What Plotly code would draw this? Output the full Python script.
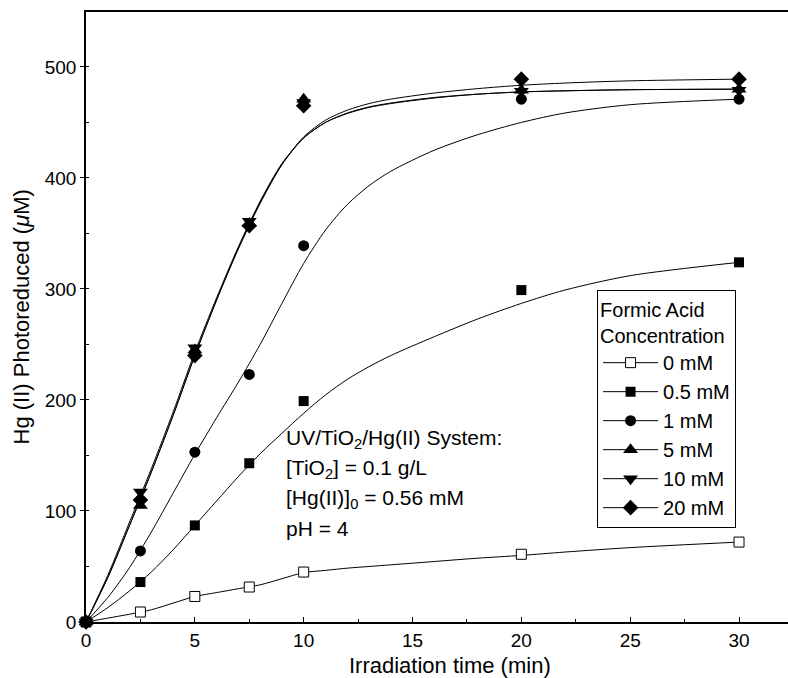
import plotly.graph_objects as go

# Measured Hg(II) photoreduced (uM) vs irradiation time (min)
time_min = [0, 2.5, 5, 7.5, 10, 20, 30]
hg_0mM = [0, 9, 23, 31.5, 45, 61, 72]
hg_05mM = [0, 36, 87, 143, 199, 299, 324]
hg_1mM = [0, 64, 153, 223, 339, 471, 471]
hg_5mM = [0, 105, 245, 359, 471, 479, 480]
hg_10mM = [0, 117, 247, 361, 468, 478, 479]
hg_20mM = [0, 110, 240, 357, 465, 489, 489]

# Fitted kinetic curves sampled on a common time grid
fit_time = [0, 1, 2, 3, 4, 5, 6, 7, 8, 9, 10, 11, 12, 13, 14, 16, 18, 20, 22, 25, 30]
fit_0mM = [0, 3.5, 7, 11, 17, 23, 26.5, 30, 33.5, 39, 44.5, 46.5, 48.5, 50, 51.5, 54.5, 57.5, 60, 63, 67, 72]
fit_05mM = [0, 13, 28, 45, 65, 87, 109, 131, 151.5, 170, 188, 204.5, 218.5, 230, 240, 257, 273, 287, 299, 312, 324]
fit_1mM = [0, 22, 49, 81, 116, 151, 184, 216, 250, 287, 323, 353, 376, 393, 406, 425, 439, 450, 458.5, 466, 471]
fit_5mM = [0, 40, 87, 135, 186, 240, 290, 337, 378, 412, 436, 450, 458.5, 464, 467.5, 472.5, 475.5, 477.5, 478.5, 479.5, 480]
fit_10mM = [0, 42, 90, 138, 189, 243, 292, 338, 379, 413, 436, 450, 458, 463.5, 467, 472, 475.5, 477.5, 478.5, 479.5, 480]
fit_20mM = [0, 40, 87, 135, 186, 240, 290, 336, 377, 412, 437, 452, 461, 467, 471, 476.5, 480.5, 483.5, 485.5, 487.5, 489]

series_names = ["0 mM", "0.5 mM", "1 mM", "5 mM", "10 mM", "20 mM"]
series_data = [hg_0mM, hg_05mM, hg_1mM, hg_5mM, hg_10mM, hg_20mM]
series_fits = [fit_0mM, fit_05mM, fit_1mM, fit_5mM, fit_10mM, fit_20mM]

marker_styles = [
    dict(symbol="square", size=10, color="white", line=dict(color="black", width=1)),
    dict(symbol="square", size=10, color="black", line=dict(color="black", width=0)),
    dict(symbol="circle", size=11, color="black", line=dict(color="black", width=0)),
    dict(symbol="triangle-up", size=13, color="black", line=dict(color="black", width=0)),
    dict(symbol="triangle-down", size=13, color="black", line=dict(color="black", width=0)),
    dict(symbol="diamond", size=12, color="black", line=dict(color="black", width=0)),
]

FONT = "Arial, Liberation Sans, sans-serif"

fig = go.Figure()

# fitted curves
for name, fit in zip(series_names, series_fits):
    fig.add_trace(go.Scatter(
        x=fit_time, y=fit, mode="lines", line=dict(color="black", width=1, shape="spline", smoothing=0.8),
        showlegend=False, hoverinfo="skip", legendgroup=name,
    ))

# measured points
for name, data, mk in zip(series_names, series_data, marker_styles):
    fig.add_trace(go.Scatter(
        x=time_min, y=data, mode="markers", marker=mk, cliponaxis=False,
        showlegend=False, name=name, legendgroup=name,
    ))

# legend entries (line + symbol)
for name, mk in zip(series_names, marker_styles):
    fig.add_trace(go.Scatter(
        x=[None], y=[None], mode="lines+markers", name=name, legendgroup=name,
        line=dict(color="black", width=1), marker=mk,
    ))

fig.update_layout(
    width=788, height=678,
    margin=dict(l=86, r=0, t=12, b=56),
    paper_bgcolor="white", plot_bgcolor="white",
    font=dict(family=FONT, color="black", size=19),
    showlegend=True,
    legend=dict(
        x=0.728, y=0.544, xanchor="left", yanchor="top",
        bgcolor="white", bordercolor="black", borderwidth=1,
        font=dict(family=FONT, size=20, color="black"),
        title=dict(text="Formic Acid<br>Concentration", font=dict(family=FONT, size=20, color="black")),
        itemwidth=55, tracegroupgap=0,
        entrywidth=150, entrywidthmode="pixels",
    ),
)

fig.update_xaxes(
    range=[0, 32.25], tick0=0, dtick=5, ticks="inside", ticklen=5, tickwidth=1.2,
    tickcolor="black", showline=True, linecolor="black", linewidth=1.5, mirror=True,
    showgrid=False, zeroline=False, tickfont=dict(size=19),
    minor=dict(dtick=2.5, ticks="inside", ticklen=3, tickcolor="black", tickwidth=1),
)
fig.update_yaxes(
    range=[0, 549.5], tick0=0, dtick=100, ticks="outside", ticklen=4, tickwidth=1.2,
    tickcolor="black", showline=True, linecolor="black", linewidth=1.5, mirror=False,
    showgrid=False, zeroline=False, tickfont=dict(size=19),
    minor=dict(dtick=50, ticks="inside", ticklen=3, tickcolor="black", tickwidth=1),
)

annotations = [
    dict(text="Irradiation time (min)", xref="paper", yref="paper", x=0.5185, y=-0.0705,
         xanchor="center", yanchor="middle", showarrow=False, font=dict(size=22)),
    dict(text="Hg (II) Photoreduced (<i>\u03bc</i>M)", xref="paper", yref="paper", x=-0.0919, y=0.5,
         xanchor="center", yanchor="middle", textangle=-90, showarrow=False, font=dict(size=22)),
]
info_lines = [
    "UV/TiO<sub>2</sub>/Hg(II) System:",
    "[TiO<sub>2</sub>] = 0.1 g/L",
    "[Hg(II)]<sub>0</sub> = 0.56 mM",
    "pH = 4",
]
info_y = [164.6, 137.6, 111, 84.4]
for txt, yv in zip(info_lines, info_y):
    annotations.append(dict(text=txt, xref="x", yref="y", x=9.1, y=yv, xanchor="left",
                            yanchor="middle", showarrow=False, font=dict(size=21)))
fig.update_layout(annotations=annotations)

fig.write_html("out.html")
